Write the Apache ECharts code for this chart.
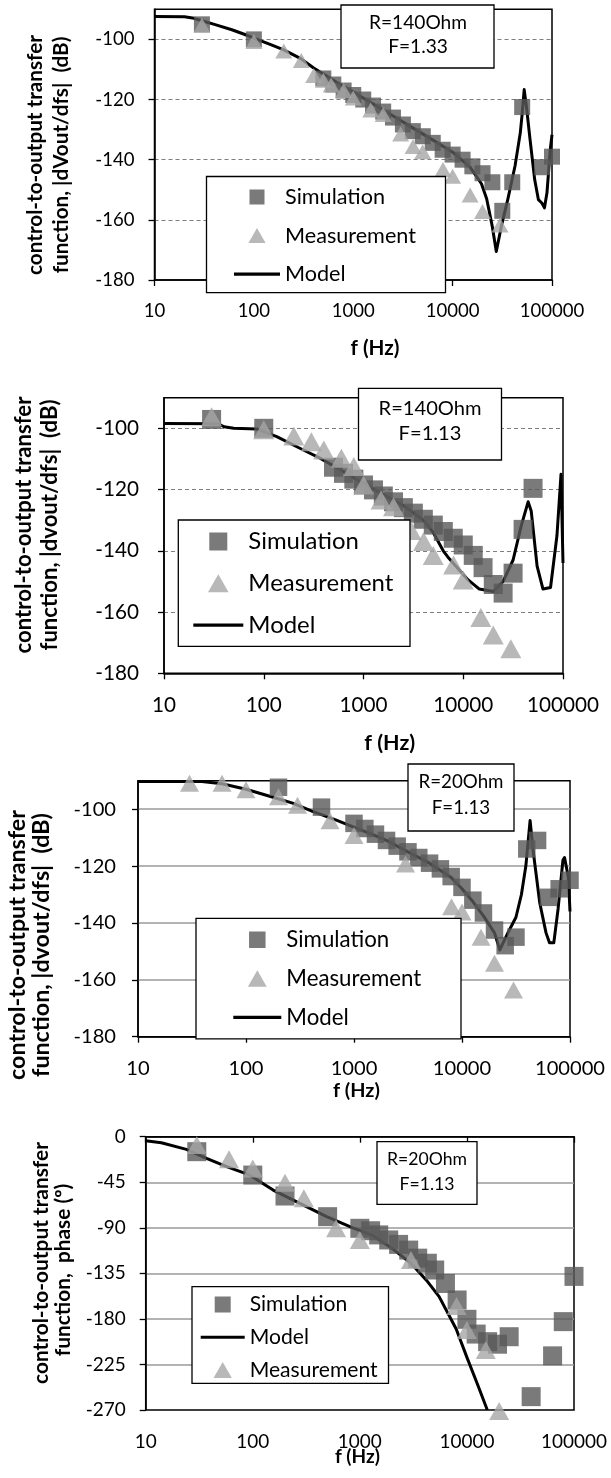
<!DOCTYPE html>
<html><head><meta charset="utf-8">
<script src="https://cdn.jsdelivr.net/npm/echarts@6/dist/echarts.min.js"></script>
<style>html,body{margin:0;padding:0;background:#fff}#c{width:611px;height:1478px}</style>
</head><body><div id="c"></div>
<script>
// ---------------- DATA ----------------
const xTickLabels = ['10', '100', '1000', '10000', '100000'];
const yTicksDb = [-180, -160, -140, -120, -100];
const yTicksPhase = [-270, -225, -180, -135, -90, -45, 0];
const seriesNames = ['Simulation', 'Measurement', 'Model'];
const annotTexts = [['R=140Ohm', 'F=1.33'], ['R=140Ohm', 'F=1.13'], ['R=20Ohm', 'F=1.13'], ['R=20Ohm', 'F=1.13']];
const yTitles = [
  ['control-to-output transfer', 'function, |dVout/dfs|  (dB)'],
  ['control-to-output transfer', 'function, |dvout/dfs|  (dB)'],
  ['control-to-output transfer', 'function, |dvout/dfs|  (dB)'],
  ['control-to-output transfer', 'function,  phase (º)']
];
const xTitle = 'f (Hz)';

// Panel 1 : R=140Ohm F=1.33 magnitude
const p1SimF  = [30, 100, 500, 630, 800, 1000, 1260, 1580, 2000, 2510, 3160, 3980, 5010, 6310, 7940, 10000, 12600, 15800, 20000, 25100, 31600, 39800, 50100, 79400, 100000];
const p1SimDb = [-95, -100, -113, -115, -117, -118.5, -120, -122, -124, -126, -128.3, -130.5, -132.2, -134.4, -136.7, -138.3, -140, -142.2, -144.5, -147.5, -157, -147.5, -122.5, -142.5, -139];
const p1MeasF  = [30, 100, 200, 300, 400, 500, 600, 800, 1000, 1500, 2000, 3000, 4000, 5000, 8000, 10000, 15000, 20000, 30000];
const p1MeasDb = [-95.3, -100.7, -103.9, -107, -112, -113.6, -115.2, -117, -119.5, -123.5, -125, -131.5, -135.6, -137.4, -143.3, -145.5, -151.7, -157.2, -161.7];
const p1ModF  = [10, 20, 25, 30, 40, 60, 80, 100, 150, 200, 300, 400, 500, 700, 1000, 1500, 2000, 3000, 4000, 6000, 10000, 15000, 19500, 22000, 25000, 27500, 31000, 36000, 42500, 48000, 50000, 52500, 55600, 60000, 67000, 73000, 79000, 84000, 89000, 96000, 100000];
const p1ModDb = [-92.4, -92.5, -93, -93.8, -95, -96.8, -98.3, -99.6, -101.8, -103.5, -106.5, -109.5, -111.5, -114.5, -117.5, -121, -123.5, -127, -129.5, -133, -137.5, -142.5, -148, -153, -162, -170.5, -162, -153, -142, -131, -125, -116.7, -123, -133, -146.7, -153.3, -154.4, -156, -151, -136.7, -131.7];

// Panel 2 : R=140Ohm F=1.13 magnitude
const p2SimF  = [30, 100, 500, 630, 800, 1000, 1260, 1580, 2000, 2510, 3160, 3980, 5010, 6310, 7940, 10000, 12600, 15800, 20000, 25100, 31600, 39800, 50100];
const p2SimDb = [-97.1, -100, -112.7, -114.7, -116.6, -118.5, -120.1, -122.1, -124, -125.9, -127.7, -129.7, -131.6, -133.7, -135.9, -138.1, -141.5, -145.5, -151, -153.8, -147.3, -133, -119.6];
const p2MeasF  = [30, 100, 200, 300, 400, 600, 800, 1000, 1500, 2000, 3000, 4000, 5000, 8000, 10000, 15000, 20000, 30000];
const p2MeasDb = [-96.2, -100.5, -102.5, -104.4, -107.1, -109.8, -112.5, -118.5, -123.4, -125.6, -133.4, -137, -141.5, -144.6, -149.5, -161.8, -167.5, -172];
const p2ModF  = [10, 35, 40, 50, 85, 135, 230, 370, 590, 930, 1500, 2500, 4000, 5000, 6300, 7000, 11200, 14500, 20000, 25100, 31600, 38000, 44700, 48000, 55000, 63000, 75000, 87000, 95500, 100000];
const p2ModDb = [-98.4, -98.5, -99.5, -100, -100.2, -102.7, -106.5, -109.8, -113.6, -117.4, -121.2, -125.2, -130, -134, -140, -142, -149.5, -152.5, -153.3, -150, -143, -132, -124, -127, -145, -152.5, -152, -135, -115, -144];

// Panel 3 : R=20Ohm F=1.13 magnitude
const p3SimF  = [200, 500, 1000, 1260, 1580, 2000, 2510, 3160, 3980, 5010, 6310, 7940, 10000, 12600, 15800, 20000, 25100, 31600, 39800, 50100, 63100, 79400, 100000];
const p3SimDb = [-92.3, -99.3, -105, -106.8, -108.8, -111, -113, -115, -117, -119, -121, -123.7, -127.5, -132, -136.5, -142.5, -148, -145, -114, -111, -131, -128, -125];
const p3MeasF  = [30, 60, 100, 200, 300, 600, 1000, 3000, 8000, 10000, 15000, 20000, 30000];
const p3MeasDb = [-90.9, -90.9, -93.2, -95.6, -98.6, -104.1, -109.3, -119.3, -134.3, -136.2, -145, -154.2, -163.6];
const p3ModF  = [10, 39, 60, 100, 188, 270, 413, 676, 1050, 1380, 2000, 3160, 5010, 7940, 10000, 12600, 15800, 20000, 22400, 27000, 31600, 35500, 39000, 42700, 45700, 52500, 60000, 64600, 70800, 77600, 86000, 89000, 96600, 100000];
const p3ModDb = [-90.3, -90.3, -91.1, -93, -96.1, -97.9, -100.8, -103.8, -106.7, -108.4, -111, -115, -119, -124, -128, -132.5, -137.5, -143.5, -149.5, -143, -138, -130, -120, -104, -115, -133, -143.5, -147, -147, -135, -118, -117, -124, -136];

// Panel 4 : R=20Ohm F=1.13 phase
const p4SimF   = [30, 100, 200, 500, 1000, 1260, 1500, 1860, 2300, 2860, 3470, 4270, 5000, 6300, 8100, 10000, 12200, 15600, 19300, 24800, 39800, 63100, 79400, 100000];
const p4SimDeg = [-14.8, -37.9, -58.6, -79, -90.5, -92.9, -97, -102, -106.4, -112, -120, -125, -131.7, -145, -161.3, -180.4, -195, -202.5, -205, -197.6, -256.8, -216.5, -182.7, -138];
const p4MeasF   = [30, 60, 100, 200, 300, 600, 1000, 3000, 8000, 10000, 15000, 20000];
const p4MeasDeg = [-8.2, -22.4, -31.3, -45.4, -60.9, -90.5, -102.1, -121.8, -167.3, -191, -210.7, -271];
const p4ModF   = [10, 14, 24, 37, 57, 93, 155, 275, 490, 860, 1320, 2040, 3000, 4200, 5500, 7940, 10000, 12600, 15500];
const p4ModDeg = [-4, -6, -12.5, -21.4, -29.6, -37.8, -52.7, -65.8, -79, -90, -97.5, -111, -125, -142, -158, -190, -218, -245, -270];

// ---------------- LAYOUT ----------------
const zip = (a, b) => a.map((v, i) => [v, b[i]]);
const FONT = 'Lato';
const mctx = document.createElement('canvas').getContext('2d');
function tw(t, size, weight) { mctx.font = (weight || 'normal') + ' ' + size + 'px ' + FONT; return mctx.measureText(t).width; }
function fit(t, target, weight) { return +(target / tw(t, 100, weight) * 100).toFixed(2); }

const COLORS = { Simulation: '#595959', Measurement: '#a6a6a6', Model: '#000' };
const ICONS = {
  Simulation: 'path://M0,0L10,0L10,10L0,10Z',
  Measurement: 'path://M6,0L12,10.5L0,10.5Z'
};

const panels = [
  { grid: [154.5, 9.3, 552, 280], y: [-180, -90, 20], ticks: yTicksDb, dashed: true,
    tickW: 64.6, yLabM: 20, xLabM: 22,
    yt: { x: [35.6, 61.7], y: [155, 155], w: 240 }, xt: { x: 375, y: 348.3, w: 49 },
    an: { box: [341, 5, 494, 68], cx: 418, cy: [22.7, 46.7], w: 98 },
    lg: { box: [206.5, 176.5, 445.5, 271.7], iconL: 234, iw: 46, ih: 15, first: 193.5, pitch: 31.6, w: 131, order: [0, 1, 2] },
    sq: 16, tri: [17, 15],
    sim: zip(p1SimF, p1SimDb), meas: zip(p1MeasF, p1MeasDb), mod: zip(p1ModF, p1ModDb) },
  { grid: [164, 397.7, 563, 673.3], y: [-180, -90, 20], ticks: yTicksDb, dashed: true,
    tickW: 72, yLabM: 25, xLabM: 22,
    yt: { x: [23.5, 50], y: [525, 525], w: 257 }, xt: { x: 389.7, y: 743.3, w: 51 },
    an: { box: [358.5, 388.3, 501.5, 460], cx: 430, cy: [408.3, 433.3], w: 103 },
    lg: { box: [178.3, 520, 410, 628.3], iconL: 193.3, iw: 50, ih: 18, first: 538.5, pitch: 35.8, w: 145, order: [0, 1, 2] },
    sq: 19, tri: [21, 19],
    sim: zip(p2SimF, p2SimDb), meas: zip(p2MeasF, p2MeasDb), mod: zip(p2ModF, p2ModDb) },
  { grid: [138, 780.7, 570, 1036.7], y: [-180, -90, 20], ticks: yTicksDb, dashed: false,
    tickW: 70, yLabM: 22, xLabM: 22,
    yt: { x: [17.6, 42], y: [945, 945], w: 270 }, xt: { x: 356.4, y: 1091, w: 47 },
    an: { box: [408, 764, 514, 831], cx: 461, cy: [781.7, 808.3], w: 85 },
    lg: { box: [196, 918.3, 461, 1022.3], iconL: 233.3, iw: 48, ih: 16.5, first: 937, pitch: 33.3, w: 135, order: [0, 1, 2] },
    sq: 17.5, tri: [19, 17],
    sim: zip(p3SimF, p3SimDb), meas: zip(p3MeasF, p3MeasDb), mod: zip(p3ModF, p3ModDb) },
  { grid: [145.7, 1136.7, 574, 1410], y: [-270, 0, 45], ticks: yTicksPhase, dashed: false,
    tickW: 66, yLabM: 20, xLabM: 22,
    yt: { x: [41, 63.7], y: [1263, 1270], w: 242 }, xt: { x: 357.4, y: 1456.7, w: 45 },
    an: { box: [377, 1141.7, 477, 1204.3], cx: 427, cy: [1159.3, 1184], w: 80 },
    lg: { box: [192, 1286.7, 388.5, 1368.3], iconL: 200.7, iw: 44, ih: 16, first: 1302, pitch: 27.75, w: 128, order: [0, 2, 1] },
    sq: 19, tri: [20, 18],
    sim: zip(p4SimF, p4SimDeg), meas: zip(p4MeasF, p4MeasDeg), mod: zip(p4ModF, p4ModDeg) }
];

const grids = [], xAxes = [], yAxes = [], series = [], legends = [], graphics = [];
panels.forEach((p, i) => {
  const [gl, gt, gr, gb] = p.grid;
  const topIsTick = p.y[1] === p.ticks[p.ticks.length - 1];
  grids.push({ left: gl, top: gt, width: gr - gl, height: gb - gt, show: true, borderColor: '#000', borderWidth: 1.5, backgroundColor: '#fff', containLabel: false });
  const tickFs = fit('100000', p.tickW);
  xAxes.push({ type: 'log', logBase: 10, min: 10, max: 100000, gridIndex: i,
    axisLine: { show: true, lineStyle: { color: '#000', width: 1.5 } },
    axisTick: { show: true, inside: false, length: 6, lineStyle: { color: '#000', width: 1.3 } },
    minorTick: { show: false }, splitLine: { show: false }, minorSplitLine: { show: false },
    axisLabel: { margin: p.xLabM, color: '#000', fontFamily: FONT, fontSize: tickFs,
      formatter: v => xTickLabels[Math.round(Math.log10(v)) - 1] } });
  yAxes.push({ type: 'value', min: p.y[0], max: p.y[1], interval: p.y[2], gridIndex: i,
    axisLine: { show: true, onZero: false, lineStyle: { color: '#000', width: 1.5 } },
    axisTick: { show: true, inside: false, length: 6, customValues: p.ticks, lineStyle: { color: '#000', width: 1.3 } },
    splitLine: { show: true, showMinLine: false, showMaxLine: !topIsTick,
      lineStyle: p.dashed ? { color: '#7f7f7f', width: 1.2, type: [4, 3] } : { color: '#9a9a9a', width: 1.6, type: 'solid' } },
    axisLabel: { margin: p.yLabM, color: '#000', fontFamily: FONT, fontSize: tickFs, customValues: p.ticks,
      showMaxLabel: true, showMinLabel: true } });

  series.push({ type: 'line', name: 'Model', xAxisIndex: i, yAxisIndex: i, data: p.mod, symbol: 'none', showSymbol: false,
    lineStyle: { color: '#000', width: 3, join: 'round' }, itemStyle: { color: '#000' }, z: 2, silent: true, animation: false });
  series.push({ type: 'scatter', name: 'Simulation', xAxisIndex: i, yAxisIndex: i, data: p.sim, symbol: 'rect', symbolSize: p.sq,
    itemStyle: { color: COLORS.Simulation }, z: 3, clip: false, silent: true, animation: false });
  series.push({ type: 'scatter', name: 'Measurement', xAxisIndex: i, yAxisIndex: i, data: p.meas, symbol: 'triangle', symbolSize: p.tri,
    itemStyle: { color: COLORS.Measurement }, z: 4, clip: false, silent: true, animation: false });

  const L = p.lg;
  const lgFs = fit('Measurement', L.w);
  const maxTextW = Math.max(...seriesNames.map(n => tw(n, lgFs)));
  const padL = L.iconL - L.box[0];
  const padR = (L.box[2] - L.box[0]) - padL - (L.iw + 5 + maxTextW);
  const padT = L.first - L.ih / 2 - L.box[1];
  const padB = L.box[3] - (L.first + 2 * L.pitch + L.ih / 2);
  const lineIcon = 'path://M0,0L' + L.iw + ',0L' + L.iw + ',3.2L0,3.2Z';
  legends.push({ orient: 'vertical', left: L.box[0], top: L.box[1], selectedMode: false,
    data: L.order.map(k => {
      const n = seriesNames[k];
      return { name: n, icon: n === 'Model' ? lineIcon : ICONS[n], itemStyle: { color: COLORS[n], borderWidth: 0, borderColor: 'transparent' } };
    }),
    itemWidth: L.iw, itemHeight: L.ih, itemGap: L.pitch - L.ih, symbolKeepAspect: true,
    padding: [padT, Math.max(0, padR), Math.max(0, padB), padL],
    borderColor: '#000', borderWidth: 1.3, backgroundColor: '#fff',
    textStyle: { fontFamily: FONT, fontSize: lgFs, color: '#000', lineHeight: L.ih }, z: 6 });

  const A = p.an;
  const anFs = fit(annotTexts[i][0], A.w);
  graphics.push({ type: 'rect', shape: { x: A.box[0], y: A.box[1], width: A.box[2] - A.box[0], height: A.box[3] - A.box[1] },
    style: { fill: '#fff', stroke: '#000', lineWidth: 1.3 }, z: 50 });
  annotTexts[i].forEach((t, k) => graphics.push({ type: 'text', x: A.cx, y: A.cy[k], z: 51,
    style: { text: t, fontFamily: FONT, fontSize: anFs, fill: '#000', align: 'center', verticalAlign: 'middle' } }));

  const ytFs = fit(yTitles[i][0], p.yt.w, 'bold');
  yTitles[i].forEach((t, k) => graphics.push({ type: 'text', x: p.yt.x[k], y: p.yt.y[k], rotation: Math.PI / 2, z: 51,
    style: { text: t, fontFamily: FONT, fontWeight: 'bold', fontSize: ytFs, fill: '#000', align: 'center', verticalAlign: 'middle' } }));
  const xtFs = fit(xTitle, p.xt.w, 'bold');
  graphics.push({ type: 'text', x: p.xt.x, y: p.xt.y, z: 51,
    style: { text: xTitle, fontFamily: FONT, fontWeight: 'bold', fontSize: xtFs, fill: '#000', align: 'center', verticalAlign: 'middle' } });
});

const chart = echarts.init(document.getElementById('c'), null, { renderer: 'canvas', width: 611, height: 1478 });
chart.setOption({
  backgroundColor: '#fff', animation: false,
  grid: grids, xAxis: xAxes, yAxis: yAxes, series: series, legend: legends, graphic: graphics
});
</script>
</body></html>
